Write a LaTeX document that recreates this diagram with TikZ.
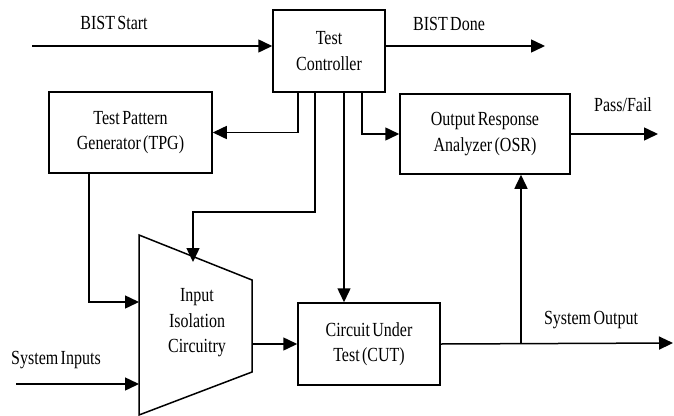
\documentclass[tikz,border=0pt]{standalone}
\usepackage{fontspec}
\setmainfont{Liberation Serif}[FakeStretch=0.8,WordSpace=0.6]
\usetikzlibrary{arrows.meta,positioning}
\begin{document}
\begin{tikzpicture}[x=1pt,y=-1pt,line width=1.5pt,
    font=\fontsize{20}{25.5}\selectfont,
    block/.style={draw,align=center,inner sep=0pt},
    lbl/.style={inner sep=0pt},
    arr/.style={-{Triangle[length=14pt,width=13pt]}}]
    \useasboundingbox (0,0) rectangle (674,415);
    % Blocks
    \node[block,minimum width=112pt,minimum height=82pt] (tc) at (329,51) {Test\\Controller};
    \node[block,minimum width=163pt,minimum height=81pt] (tpg) at (130.5,132.5) {Test Pattern\\Generator (TPG)};
    \node[block,minimum width=170pt,minimum height=80pt] (osr) at (485,134) {Output Response\\Analyzer (OSR)};
    \node[block,minimum width=142pt,minimum height=82pt] (cut) at (369,344) {Circuit Under\\Test (CUT)};
    % Isolation trapezoid
    \draw (139,235) -- (252,280) -- (252,372) -- (139,415) -- cycle;
    \node[align=center,inner sep=0pt] (iso) at (197,323) {Input\\Isolation\\Circuitry};
    \coordinate (isotop) at (193,262);
    \coordinate (isoa) at (139,302);
    \coordinate (isob) at (139,384);
    \coordinate (isoc) at (252,344);
    % Free ends
    \coordinate (bsin) at (32,46);
    \coordinate (bsout) at (545,46);
    \coordinate (pfout) at (658,134);
    \coordinate (sysin) at (16,384);
    \coordinate (sysout) at (673,343);
    \coordinate (tap) at (521,343);
    % Connectors
    \draw[arr] (bsin) -- (tc.west |- bsin);
    \draw[arr] (tc.east |- bsout) -- (bsout);
    \draw[arr] ([xshift=-31pt]tc.south) |- (tpg.east);
    \draw[arr] ([xshift=-14pt]tc.south) |- ([yshift=50pt]isotop) -- (isotop);
    \draw[arr] ([xshift=15pt]tc.south) -- ([xshift=15pt]tc.south |- cut.north);
    \draw[arr] ([xshift=33pt]tc.south) |- (osr.west);
    \draw[arr] (osr.east) -- (pfout);
    \draw[arr] ([xshift=-41.5pt]tpg.south) |- (isoa);
    \draw[arr] (sysin) -- (isob);
    \draw[arr] (isoc) -- (cut.west);
    \draw[arr] (cut.east) -- (sysout);
    \draw[arr] (tap) -- (osr.south -| tap);
    % Labels
    \node[lbl] (lstart) at (114,23) {BIST Start};
    \node[lbl] (ldone) at (449,24) {BIST Done};
    \node[lbl] (lpass) at (623,105) {Pass/Fail};
    \node[lbl] (lout) at (591,320) {System Output};
    \node[lbl] (lin) at (56,360) {System Inputs};
\end{tikzpicture}
\end{document}
